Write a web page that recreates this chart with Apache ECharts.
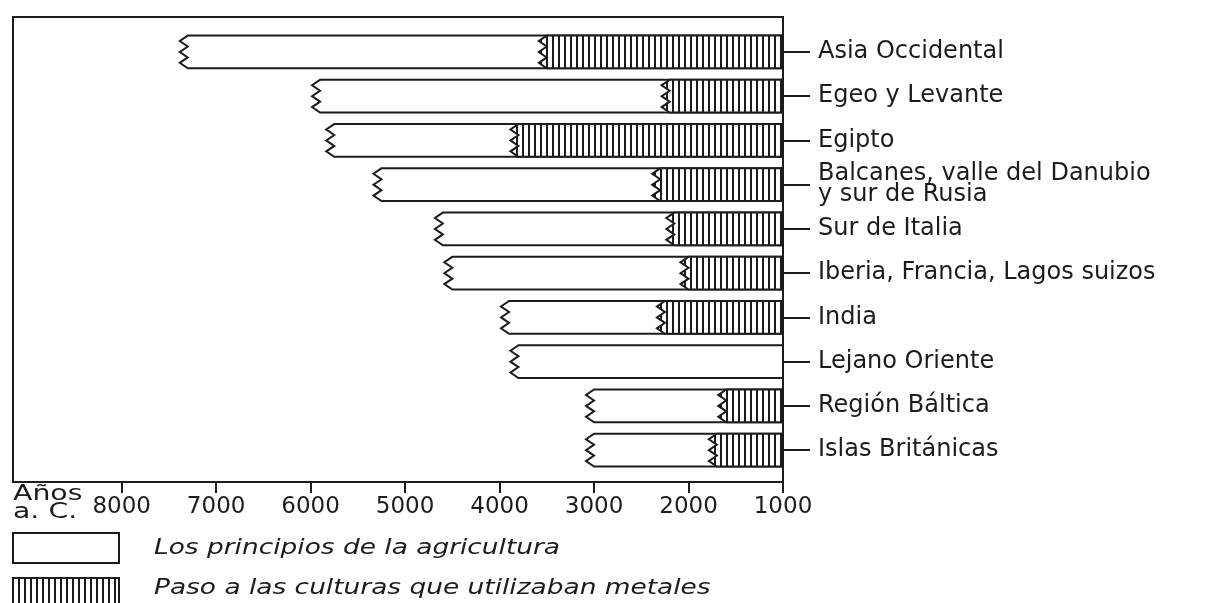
<!DOCTYPE html>
<html>
<head>
<meta charset="utf-8">
<script src="https://cdn.jsdelivr.net/npm/echarts@6/dist/echarts.min.js"></script>
<style>
  html, body { margin: 0; padding: 0; background: #fff; }
  #chart { width: 1206px; height: 603px; }
</style>
</head>
<body>
<div id="chart"></div>
<script>
const categories = [
  "Asia Occidental",
  "Egeo y Levante",
  "Egipto",
  "Balcanes, valle del Danubio\ny sur de Rusia",
  "Sur de Italia",
  "Iberia, Francia, Lagos suizos",
  "India",
  "Lejano Oriente",
  "Región Báltica",
  "Islas Británicas"
];
// years B.C. when farming began / when metal-using cultures appeared
const agricultureStart = [7300, 5900, 5750, 5250, 4600, 4500, 3900, 3800, 3000, 3000];
const metalStart = [3500, 2200, 3800, 2300, 2150, 2000, 2250, null, 1600, 1700];
const axisEnd = 1000;
const xTicks = [8000, 7000, 6000, 5000, 4000, 3000, 2000, 1000];
const legendLabels = ["Los principios de la agricultura", "Paso a las culturas que utilizaban metales"];

const INK = "#1c1c1c";
const FONT = "DejaVu Sans";

// vertical hatching used for the metal period
const hatch = document.createElement("canvas");
hatch.width = 6;
hatch.height = 6;
const hctx = hatch.getContext("2d");
hctx.fillStyle = "#fff";
hctx.fillRect(0, 0, 6, 6);
hctx.fillStyle = INK;
hctx.fillRect(0, 0, 2, 6);
const hatchFill = { image: hatch, repeat: "repeat" };

// bar from a start year to axisEnd, left edge drawn as a break (zigzag)
function brokenBar(api, fill) {
  const idx = api.value(1);
  const p0 = api.coord([api.value(0), idx]);
  const p1 = api.coord([axisEnd, idx]);
  const h = api.size([0, 1])[1] * 0.74;
  const y0 = p0[1] - h / 2;
  const y1 = p0[1] + h / 2;
  const x0 = p0[0];
  const a = 8;
  const pts = [[x0, y0], [p1[0], y0], [p1[0], y1], [x0, y1]];
  for (let k = 1; k < 6; k++) {
    pts.push([k % 2 ? x0 - a : x0, y1 - (k * h) / 6]);
  }
  return {
    type: "polygon",
    shape: { points: pts },
    style: { fill: fill, stroke: INK, lineWidth: 2 }
  };
}

const agriData = categories.map((c, i) => [agricultureStart[i], i]);
const metalData = [];
categories.forEach((c, i) => {
  if (metalStart[i] != null) metalData.push([metalStart[i], i]);
});

const chart = echarts.init(document.getElementById("chart"));
chart.setOption({
  backgroundColor: "#fff",
  animation: false,
  grid: {
    left: 13, right: 423, top: 17, bottom: 121,
    show: true, borderColor: INK, borderWidth: 2,
    outerBoundsMode: "none"
  },
  xAxis: {
    type: "value",
    inverse: true,
    min: 1000,
    max: 9150,
    axisLine: { show: true, onZero: false, lineStyle: { color: INK, width: 2 } },
    axisTick: { show: true, customValues: xTicks, length: 11, lineStyle: { color: INK, width: 2 } },
    axisLabel: {
      customValues: xTicks, formatter: (v) => String(v),
      color: INK, fontSize: 23, fontFamily: FONT, margin: 14
    },
    splitLine: { show: false }
  },
  yAxis: {
    type: "value",
    inverse: true,
    position: "right",
    min: -0.79,
    max: 9.72,
    axisLine: { show: true, onZero: false, lineStyle: { color: INK, width: 2 } },
    axisTick: { show: true, customValues: categories.map((c, i) => i), length: 27, lineStyle: { color: INK, width: 2 } },
    axisLabel: {
      customValues: categories.map((c, i) => i),
      formatter: (v) => categories[Math.round(v)],
      color: INK, fontSize: 24, fontFamily: FONT, lineHeight: 21,
      margin: 35, align: "left"
    },
    splitLine: { show: false }
  },
  series: [
    {
      name: legendLabels[0],
      type: "custom",
      data: agriData,
      encode: { x: 0, y: 1 },
      renderItem: (params, api) => brokenBar(api, "#fff")
    },
    {
      name: legendLabels[1],
      type: "custom",
      data: metalData,
      encode: { x: 0, y: 1 },
      renderItem: (params, api) => brokenBar(api, hatchFill)
    }
  ],
  graphic: [
    { type: "text", x: 13, y: 495, scaleX: 1.35, style: { text: "Años", fill: INK, fontSize: 21, fontFamily: FONT, verticalAlign: "middle" } },
    { type: "text", x: 13, y: 513, scaleX: 1.35, style: { text: "a. C.", fill: INK, fontSize: 21, fontFamily: FONT, verticalAlign: "middle" } },
    { type: "rect", shape: { x: 13, y: 533, width: 106, height: 30 }, style: { fill: "#fff", stroke: INK, lineWidth: 2 } },
    { type: "rect", shape: { x: 13, y: 578, width: 106, height: 30 }, style: { fill: hatchFill, stroke: INK, lineWidth: 2 } },
    { type: "text", x: 154, y: 548, scaleX: 1.2, style: { text: legendLabels[0], fill: INK, fontSize: 22, fontStyle: "italic", fontFamily: FONT, verticalAlign: "middle" } },
    { type: "text", x: 154, y: 588, scaleX: 1.2, style: { text: legendLabels[1], fill: INK, fontSize: 22, fontStyle: "italic", fontFamily: FONT, verticalAlign: "middle" } }
  ]
});
</script>
</body>
</html>
